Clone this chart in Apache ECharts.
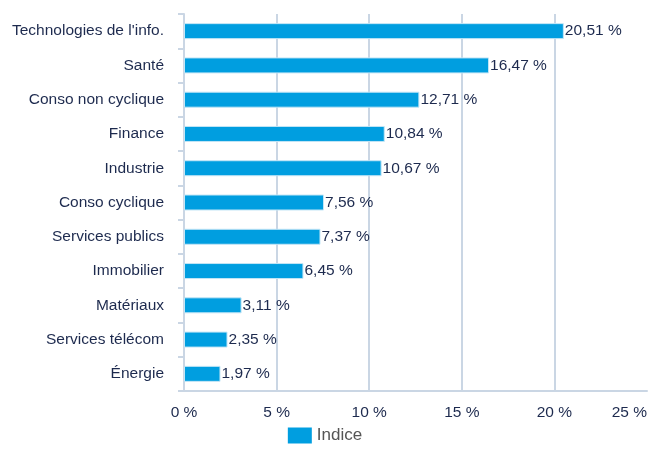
<!DOCTYPE html>
<html>
<head>
<meta charset="utf-8">
<script src="https://cdn.jsdelivr.net/npm/echarts@6/dist/echarts.min.js"></script>
<style>
  html, body { margin: 0; padding: 0; background: #fff; }
  #chart { width: 650px; height: 450px; }
</style>
</head>
<body>
<div id="chart"></div>
<script>
const categories = ["Technologies de l'info.", 'Santé', 'Conso non cyclique', 'Finance', 'Industrie',
  'Conso cyclique', 'Services publics', 'Immobilier', 'Matériaux', 'Services télécom', 'Énergie'];
const indice = [20.51, 16.47, 12.71, 10.84, 10.67, 7.56, 7.37, 6.45, 3.11, 2.35, 1.97];
const xTicks = [0, 5, 10, 15, 20, 25];

const textColor = '#1d2a4e';
const lineColor = '#cad6e4';

const myChart = echarts.init(document.getElementById('chart'));

const fmt = v => v.toFixed(2).replace('.', ',') + ' %';

myChart.setOption({
  animation: false,
  textStyle: { fontFamily: 'Liberation Sans' },
  grid: { left: 184, right: 2, top: 14, bottom: 59 },
  legend: {
    bottom: 1,
    left: 'center',
    itemWidth: 24,
    itemHeight: 16,
    itemGap: 10,
    itemStyle: { borderWidth: 0 },
    textStyle: { color: '#555', fontSize: 17, fontFamily: 'Liberation Sans' },
    data: [{ name: 'Indice', icon: 'rect' }]
  },
  xAxis: {
    type: 'value',
    min: xTicks[0],
    max: xTicks[xTicks.length - 1],
    interval: 5,
    axisLine: { show: true, lineStyle: { color: lineColor, width: 2 } },
    axisTick: { show: false },
    axisLabel: {
      color: textColor, fontSize: 15.5, margin: 14,
      alignMaxLabel: 'right',
      formatter: v => v + ' %'
    },
    splitLine: { show: true, showMaxLine: false, lineStyle: { color: lineColor, width: 2 } }
  },
  yAxis: {
    type: 'category',
    inverse: true,
    data: categories,
    axisLine: { show: true, lineStyle: { color: lineColor, width: 2 } },
    axisTick: { show: true, length: 6, lineStyle: { color: lineColor, width: 2 } },
    axisLabel: { color: textColor, fontSize: 15.5, margin: 20 }
  },
  series: [{
    name: 'Indice',
    type: 'bar',
    data: indice,
    barWidth: 16,
    itemStyle: { color: '#009ee0', borderColor: '#c4e6f6', borderWidth: 1 },
    label: {
      show: true,
      position: 'right',
      distance: 1,
      color: textColor,
      fontSize: 15.5,
      formatter: p => fmt(p.value)
    }
  }]
});
</script>
</body>
</html>
